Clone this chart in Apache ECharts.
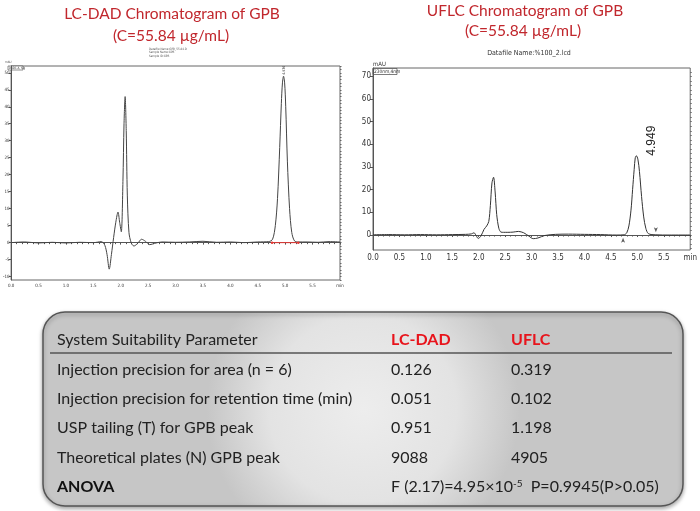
<!DOCTYPE html>
<html>
<head>
<meta charset="utf-8">
<script src="https://cdn.jsdelivr.net/npm/echarts@6/dist/echarts.min.js"></script>
<style>
  html, body { margin: 0; padding: 0; background: #fff; }
  #main { width: 700px; height: 511px; }
</style>
</head>
<body>
<div id="main"></div>
<script>
// LC-DAD trace (minutes, mAU)
const lcdadTime = [0, 0.25, 0.5, 0.75, 1.0, 1.25, 1.5, 1.65, 1.71, 1.75, 1.79, 1.83, 1.87, 1.91, 1.95, 1.98, 2.01, 2.04, 2.06, 2.08, 2.10, 2.12, 2.15, 2.19, 2.24, 2.31, 2.38, 2.45, 2.53, 2.62, 2.75, 3.0, 3.25, 3.5, 3.75, 4.0, 4.25, 4.5, 4.70, 4.77, 4.82, 4.86, 4.90, 4.93, 4.95, 4.97, 4.99, 5.01, 5.04, 5.08, 5.12, 5.17, 5.24, 5.4, 5.6, 5.8, 6.0]
const lcdadSignal = [0, 0.2, -0.1, 0.1, -0.1, 0.1, 0, 0.3, -0.8, -3.5, -7.8, -3.5, 1.5, 6, 9, 6, 3.2, 18, 35, 43, 33, 14, 3, 0, -1, -0.2, 1, 0.4, -0.6, -0.2, 0.2, 0.1, 0.2, 0.4, 0.1, 0.2, 0, 0.2, 0.3, 1, 5, 13, 28, 41, 47, 49, 47, 40, 24, 10, 3, 0.5, 0.2, 0.2, 0.1, 0.3, 0.2]

// UFLC trace
const uflcTime = [0, 0.3, 0.6, 0.9, 1.2, 1.5, 1.75, 1.86, 1.91, 1.95, 1.99, 2.04, 2.10, 2.15, 2.19, 2.22, 2.25, 2.28, 2.31, 2.34, 2.38, 2.42, 2.47, 2.55, 2.65, 2.75, 2.85, 2.95, 3.03, 3.12, 3.25, 3.45, 3.7, 4.0, 4.3, 4.6, 4.75, 4.80, 4.84, 4.88, 4.91, 4.94, 4.96, 4.98, 5.01, 5.04, 5.08, 5.12, 5.16, 5.21, 5.35, 5.6, 6.0]
const uflcSignal = [0.1, 0.2, 0.1, 0.2, 0.1, 0.2, 0.3, 0.5, 1.0, -0.2, -1.5, -0.5, 2.5, 4, 6, 13, 23, 25.5, 19, 9, 3, 1.3, 1.2, 1.2, 1.3, 1.6, 1.0, -0.5, -1.6, -1.3, -0.2, 0.3, 0.4, 0.3, 0.2, 0.0, 0.1, 1.0, 4, 11, 20, 29, 34, 35, 33.5, 28, 17, 8, 3, 0.6, 0.1, 0, 0]

// integration marks
const lcdadBaseTime = [4.76, 5.24]
const uflcMarkTime = [4.73, 5.35]

// axis labels
const lcdadYTicks = [-10, -5, 0, 5, 10, 15, 20, 25, 30, 35, 40, 45, 50]
const uflcYTicks = [0, 10, 20, 30, 40, 50, 60, 70]

// table
const colHeads = ['System Suitability Parameter', 'LC-DAD', 'UFLC']
const paramNames = ['Injection precision for area (n = 6)', 'Injection precision for retention time (min)', 'USP tailing (T) for GPB peak', 'Theoretical plates (N) GPB peak']
const lcdadValues = ['0.126', '0.051', '0.951', '9088']
const uflcValues = ['0.319', '0.102', '1.198', '4905']
const anovaText = 'F (2.17)=4.95×10{sup|-5}  P=0.9945(P>0.05)'

const zip = (xs, ys) => xs.map((x, i) => [x, ys[i]])
const range = (a, b, step) => {
    const out = []
    for (let v = a; v <= b + 1e-9; v += step) out.push(Math.round(v * 10) / 10)
    return out
}

const narrow = '"Liberation Sans Narrow", "DejaVu Sans Condensed", "Liberation Sans", sans-serif'
const textFont = 'Lato, "Open Sans", sans-serif'
const red = '#c1272d'

const chart = echarts.init(document.getElementById('main'))

const timeAxis = (gridIndex, fontSize, margin) => ({
    type: 'value',
    gridIndex,
    min: 0,
    max: 6,
    interval: 0.5,
    axisLine: { show: true, lineStyle: { color: '#555', width: 1 } },
    axisTick: { show: true, length: 2, lineStyle: { color: '#555' } },
    minorTick: { show: true, splitNumber: 5, length: 1.5, lineStyle: { color: '#555' } },
    splitLine: { show: false },
    axisLabel: {
        fontSize, margin, color: '#333', fontFamily: narrow,
        formatter: v => v >= 6 ? 'min' : v.toFixed(1)
    }
})

const rowY = i => 340 + i * 29.4
const tableGraphics = [
    {
        type: 'rect',
        shape: { x: 43, y: 312, width: 640, height: 194, r: 22 },
        style: {
            fill: { type: 'radial', x: 0.5, y: 0.5, r: 0.8, colorStops: [
                { offset: 0, color: '#ededed' }, { offset: 0.6, color: '#e3e3e3' }, { offset: 1, color: '#c6c6c6' }] },
            stroke: '#555', lineWidth: 1.5,
            shadowBlur: 4, shadowColor: 'rgba(0,0,0,0.35)', shadowOffsetY: 2
        }
    },
    { type: 'line', shape: { x1: 50, y1: 353, x2: 672, y2: 353 }, style: { stroke: '#555', lineWidth: 1.5 } },
    { type: 'text', x: 57, y: rowY(0), style: { text: colHeads[0], font: '16px ' + textFont, fill: '#222', verticalAlign: 'middle' } },
    { type: 'text', x: 391, y: rowY(0), style: { text: colHeads[1], font: 'bold 16px ' + textFont, fill: '#e8141c', verticalAlign: 'middle' } },
    { type: 'text', x: 511, y: rowY(0), style: { text: colHeads[2], font: 'bold 16px ' + textFont, fill: '#e8141c', verticalAlign: 'middle' } }
]
paramNames.forEach((name, i) => {
    tableGraphics.push(
        { type: 'text', x: 57, y: rowY(i + 1), style: { text: name, font: '16px ' + textFont, fill: '#222', verticalAlign: 'middle' } },
        { type: 'text', x: 391, y: rowY(i + 1), style: { text: lcdadValues[i], font: '16px ' + textFont, fill: '#222', verticalAlign: 'middle' } },
        { type: 'text', x: 511, y: rowY(i + 1), style: { text: uflcValues[i], font: '16px ' + textFont, fill: '#222', verticalAlign: 'middle' } }
    )
})
tableGraphics.push(
    { type: 'text', x: 57, y: rowY(5), style: { text: 'ANOVA', font: 'bold 16px ' + textFont, fill: '#111', verticalAlign: 'middle' } },
    { type: 'text', x: 391, y: rowY(5), style: {
        text: anovaText, font: '16px ' + textFont, fill: '#222', verticalAlign: 'middle',
        rich: { sup: { fontSize: 10, fontFamily: 'Lato', verticalAlign: 'top', padding: [0, 0, 6, 0] } }
    } }
)

const headerGraphics = [
    { type: 'text', x: 172, y: 14, style: { text: 'LC-DAD Chromatogram of GPB', font: '15.5px ' + textFont, fill: red, align: 'center', verticalAlign: 'middle' } },
    { type: 'text', x: 171, y: 36, style: { text: '(C=55.84 µg/mL)', font: '15.5px ' + textFont, fill: red, align: 'center', verticalAlign: 'middle' } },
    { type: 'text', x: 525, y: 11, style: { text: 'UFLC Chromatogram of GPB', font: '15.5px ' + textFont, fill: red, align: 'center', verticalAlign: 'middle' } },
    { type: 'text', x: 523, y: 31, style: { text: '(C=55.84 µg/mL)', font: '15.5px ' + textFont, fill: red, align: 'center', verticalAlign: 'middle' } },
    // instrument printout text
    { type: 'text', x: 149, y: 47, style: { text: 'Datafile Name:GPB_55.84.D\nSample Name:GPB\nSample ID:GPB', font: '3px ' + narrow, fill: '#555', lineHeight: 3.5 } },
    { type: 'rect', shape: { x: 8, y: 66, width: 15, height: 4 }, style: { fill: '#fff', stroke: '#444', lineWidth: 0.6 } },
    { type: 'text', x: 9, y: 68, style: { text: 'DAD1 A, Sig', font: '3px ' + narrow, fill: '#333', verticalAlign: 'middle' } },
    { type: 'text', x: 5, y: 62, style: { text: 'mAU', font: '3px ' + narrow, fill: '#444', verticalAlign: 'middle' } },
    { type: 'text', x: 529, y: 53, style: { text: 'Datafile Name:%100_2.lcd', font: '7px ' + narrow, fill: '#333', align: 'center', verticalAlign: 'middle' } },
    { type: 'text', x: 373, y: 64, style: { text: 'mAU', font: '6px ' + narrow, fill: '#333', verticalAlign: 'middle' } },
    { type: 'rect', shape: { x: 373, y: 68.5, width: 24, height: 6 }, style: { fill: '#fff', stroke: '#444', lineWidth: 0.7 } },
    { type: 'text', x: 374, y: 71.5, style: { text: '230nm,4nm', font: '4.8px ' + narrow, fill: '#333', verticalAlign: 'middle' } }
]

chart.setOption({
    animation: false,
    grid: [
        { left: 7, top: 66, right: 360, bottom: 231, show: true, borderColor: '#666', borderWidth: 1 },
        { left: 373, top: 68, right: 1, bottom: 261, show: true, borderColor: '#666', borderWidth: 1 }
    ],
    xAxis: [timeAxis(0, 4.5, 3), timeAxis(1, 8, 4)],
    yAxis: [
        {
            type: 'value', gridIndex: 0, min: -11, max: 52,
            axisLine: { show: true, lineStyle: { color: '#555' } },
            axisTick: { show: true, customValues: lcdadYTicks, length: 2.5, lineStyle: { color: '#555' } },
            axisLabel: { customValues: lcdadYTicks, fontSize: 4.5, margin: 1.5, color: '#333', fontFamily: narrow },
            splitLine: { show: false }
        },
        {
            type: 'value', gridIndex: 0, min: -11, max: 52,
            axisLine: { show: false },
            axisTick: { show: true, customValues: range(-11, 52, 1), length: 1.5, lineStyle: { color: '#666' } },
            axisLabel: { show: false },
            splitLine: { show: false }
        },
        {
            type: 'value', gridIndex: 1, min: -6.6, max: 73.7,
            axisLine: { show: true, lineStyle: { color: '#555' } },
            axisTick: { show: true, customValues: uflcYTicks, length: 3, lineStyle: { color: '#555' } },
            axisLabel: { customValues: uflcYTicks, fontSize: 8, margin: 2, color: '#333', fontFamily: narrow },
            splitLine: { show: false }
        },
        {
            type: 'value', gridIndex: 1, min: -6.6, max: 73.7,
            axisLine: { show: false },
            axisTick: { show: true, customValues: range(-6, 72, 2), length: 1.5, lineStyle: { color: '#666' } },
            axisLabel: { show: false },
            splitLine: { show: false }
        }
    ],
    series: [
        {
            type: 'line', xAxisIndex: 0, yAxisIndex: 0,
            data: zip(lcdadTime, lcdadSignal),
            smooth: 0.3, showSymbol: false,
            lineStyle: { color: '#444', width: 1 },
            markPoint: {
                symbol: 'circle', symbolSize: 0,
                data: [{ coord: [4.97, 49] }],
                label: { show: true, formatter: '4.976', rotate: 90, fontSize: 3.5, color: '#222', offset: [6, 1], fontFamily: narrow }
            }
        },
        {
            type: 'line', xAxisIndex: 0, yAxisIndex: 0,
            data: lcdadBaseTime.map(t => [t, 0]),
            symbol: 'circle', symbolSize: 2.5,
            itemStyle: { color: '#e53935' },
            lineStyle: { color: '#e53935', width: 1 }
        },
        {
            type: 'line', xAxisIndex: 1, yAxisIndex: 2,
            data: zip(uflcTime, uflcSignal),
            smooth: 0.3, showSymbol: false,
            lineStyle: { color: '#333', width: 1 },
            markPoint: {
                symbol: 'circle', symbolSize: 0,
                data: [{ coord: [4.96, 35] }],
                label: { show: true, formatter: '4.949', rotate: 90, fontSize: 12, color: '#222', offset: [15, 16], fontFamily: '"Liberation Sans", sans-serif' }
            }
        },
        {
            type: 'scatter', xAxisIndex: 1, yAxisIndex: 2,
            data: [
                { value: [uflcMarkTime[0], -1.2], symbolRotate: 0 },
                { value: [uflcMarkTime[1], 1.2], symbolRotate: 180 }
            ],
            symbol: 'arrow', symbolSize: [3, 5],
            itemStyle: { color: '#333' }
        }
    ],
    graphic: headerGraphics.concat(tableGraphics)
})
</script>
</body>
</html>
